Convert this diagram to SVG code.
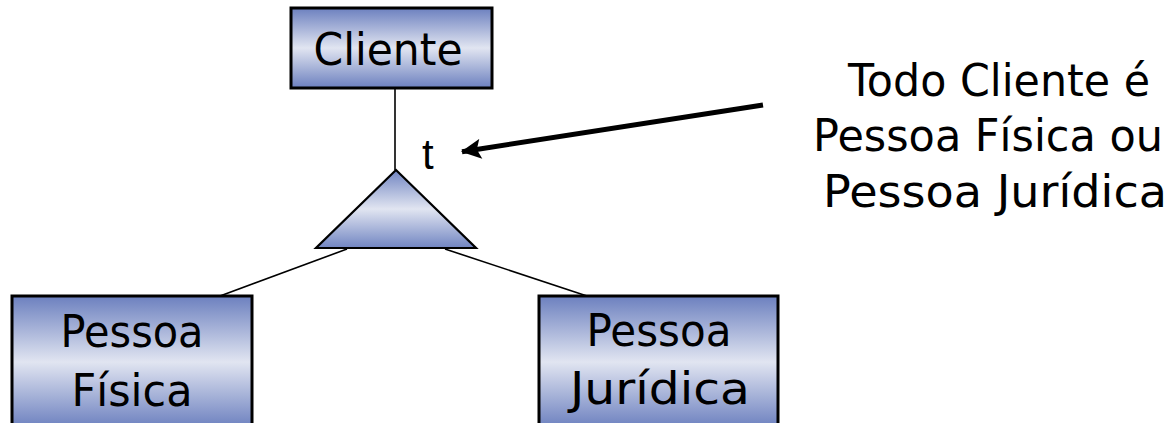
<svg xmlns="http://www.w3.org/2000/svg" width="1174" height="423" viewBox="0 0 1174 423">
<defs>
<linearGradient id="g" x1="0" y1="0" x2="0" y2="1">
<stop offset="0" stop-color="#6c80bf"/>
<stop offset="0.5" stop-color="#e1e5f1"/>
<stop offset="1" stop-color="#6c80bf"/>
</linearGradient>
<linearGradient id="gt" x1="0" y1="0" x2="0" y2="1">
<stop offset="0" stop-color="#7185c2"/>
<stop offset="0.5" stop-color="#e1e5f1"/>
<stop offset="1" stop-color="#7185c2"/>
</linearGradient>
<marker id="ah" viewBox="0 0 10 10" refX="9.5" refY="5" markerWidth="4.4" markerHeight="4" orient="auto" markerUnits="strokeWidth">
<path d="M0,0 L10,5 L0,10 L2,5 Z" fill="#000"/>
</marker>
</defs>
<style>
.box{fill:url(#g);stroke:#000;stroke-width:3}
.lbl{font-family:"DejaVu Sans",sans-serif;font-size:44px;fill:#000;text-anchor:middle}
.ln{stroke:#000;stroke-width:1.6;fill:none}
</style>
<rect width="1174" height="423" fill="#fff"/>
<g id="connectors">
<line class="ln" x1="395" y1="88" x2="395" y2="170"/>
<line class="ln" x1="347" y1="249" x2="220" y2="296"/>
<line class="ln" x1="445" y1="249" x2="587" y2="296"/>
<line x1="763" y1="105" x2="462" y2="151.7" stroke="#000" stroke-width="5" marker-end="url(#ah)"/>
</g>
<g id="cliente">
<rect class="box" x="291" y="8" width="201" height="80"/>
<text class="lbl" x="388" y="65" textLength="149" lengthAdjust="spacingAndGlyphs">Cliente</text>
</g>
<g id="especializacao">
<polygon points="396,170 316,248 476,248" fill="url(#gt)" stroke="#000" stroke-width="2.2" stroke-linejoin="miter"/>
<text x="422" y="169" font-family="Liberation Sans, Arial, sans-serif" font-size="42">t</text>
</g>
<g id="pessoa-fisica">
<rect class="box" x="12" y="296" width="240" height="132"/>
<text class="lbl" x="132" y="347" textLength="143" lengthAdjust="spacingAndGlyphs">Pessoa</text>
<text class="lbl" x="132" y="406" textLength="121" lengthAdjust="spacingAndGlyphs">Física</text>
</g>
<g id="pessoa-juridica">
<rect class="box" x="539" y="296" width="239" height="132"/>
<text class="lbl" x="659" y="346" textLength="145" lengthAdjust="spacingAndGlyphs">Pessoa</text>
<text class="lbl" x="660" y="404" textLength="180" lengthAdjust="spacingAndGlyphs">Jurídica</text>
</g>
<g id="nota">
<text class="lbl" x="999" y="96" textLength="302" lengthAdjust="spacingAndGlyphs">Todo Cliente é</text>
<text class="lbl" x="988" y="151" textLength="350" lengthAdjust="spacingAndGlyphs">Pessoa Física ou</text>
<text class="lbl" x="995" y="207" textLength="344" lengthAdjust="spacingAndGlyphs">Pessoa Jurídica</text>
</g>
</svg>
